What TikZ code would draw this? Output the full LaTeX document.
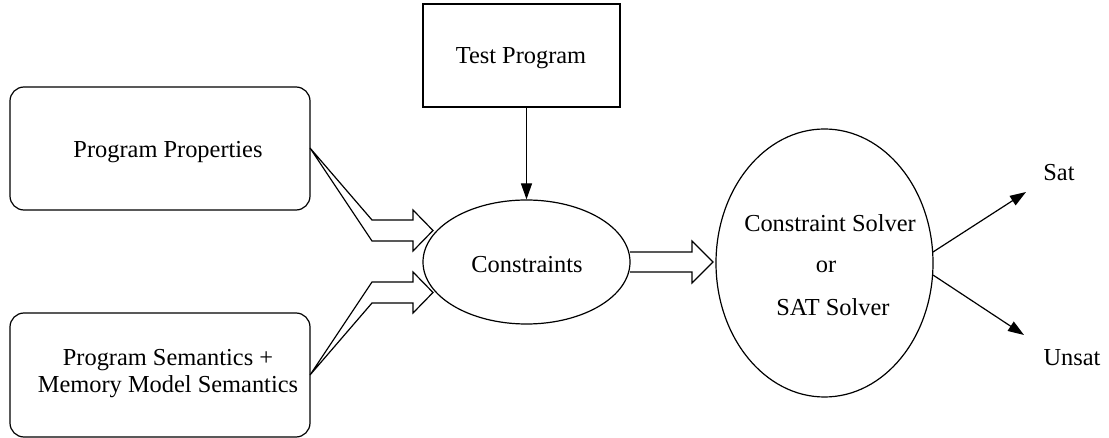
\documentclass[tikz,border=0pt]{standalone}
\usepackage{fontspec}
\setmainfont{Liberation Serif}
\usetikzlibrary{arrows.meta,shapes.geometric}
\begin{document}
\begin{tikzpicture}[x=0.5pt,y=-0.5pt,
  every node/.style={font=\fontsize{12.2}{13.5}\selectfont, inner sep=0pt},
  line/.style={draw=black, line width=0.6pt},
  rbox/.style={line, rounded corners=7pt, rectangle},
  sbox/.style={line, rectangle},
  oval/.style={line, ellipse},
  hollow/.style={line, line join=miter},
  tip/.style={-{Triangle[length=8pt,width=5.5pt]}, line}]
\useasboundingbox (0,0) rectangle (1109,438);
% boxes
\draw[rbox] (10,87) rectangle (310,210);
\node (pp) at (168,152) {Program Properties};
\coordinate (ppout) at (310,148);
\draw[rbox] (10,313) rectangle (310,437);
\node[align=center] (sem) at (168,374) {Program Semantics +\\Memory Model Semantics};
\coordinate (semout) at (310,375);
\node[sbox, minimum width=98.5pt, minimum height=51.5pt] (tp) at (521.5,55.5) {};
\node (tptext) at (521,58) {Test Program};
\node[oval, minimum width=103.5pt, minimum height=62pt] (cons) at (526.5,262) {};
\node (constext) at (527,265) {Constraints};
\node[oval, minimum width=108.5pt, minimum height=134pt] (solver) at (824.5,263) {};
\node (s1) at (830,223) {Constraint Solver};
\node (s2) at (826,267) {or};
\node (s3) at (833,307) {SAT Solver};
\node (sat) at (1059,173) {Sat};
\node (unsat) at (1072,358) {Unsat};
% test program arrow
\draw[tip] (tp.south -| cons.north) -- (cons.north);
% hollow arrows
\draw[hollow] (ppout) -- (372,220) -- (413,220) -- (413,210) -- (433,230.5) -- (413,251) -- (413,241) -- (372,241) -- cycle;
\draw[hollow] (semout) -- (372,303) -- (413,303) -- (413,313) -- (433,292.5) -- (413,272) -- (413,282) -- (372,282) -- cycle;
\draw[hollow] (630,252) -- (692,252) -- (692,241) -- (713,262) -- (692,283) -- (692,272) -- (630,272);
% outputs
\coordinate (sattip) at (1026,192);
\coordinate (unsattip) at (1024,335);
\draw[tip] (933,252) -- (sattip);
\draw[tip] (933,275) -- (unsattip);
\end{tikzpicture}
\end{document}
